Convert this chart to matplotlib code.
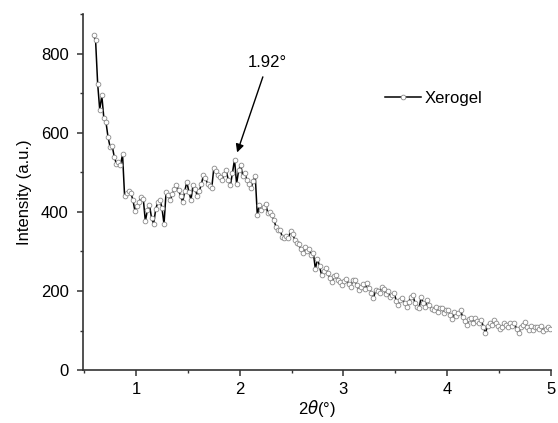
import numpy as np
import matplotlib.pyplot as plt
from matplotlib.ticker import MultipleLocator

plt.rcParams['font.family'] = ['Liberation Sans', 'DejaVu Sans']

# 2theta grid (deg) and intensity (a.u.)
two_theta = np.round(np.arange(0.59, 5.0, 0.02), 3)
intensity = [
    # 0.59 - 0.87
    846, 833, 724, 658, 694, 636, 627, 589, 564, 567, 539, 522, 526, 518, 545,
    # 0.89 - 1.39
    439, 448, 453, 448, 430, 402, 415, 425, 438, 433, 376, 405, 417, 384, 369,
    407, 424, 430, 410, 369, 450, 442, 429, 445, 457, 467,
    # 1.41 - 2.15
    455, 440, 425, 452, 476, 450, 431, 467, 458, 441, 452, 470, 492, 485, 471,
    466, 459, 510, 502, 493, 488, 480, 495, 505, 480, 467, 498, 532, 471, 505,
    518, 490, 497, 480, 470, 459, 478, 490,
    # 2.17 - 2.99
    391, 417, 405, 412, 421, 398, 400, 392, 379, 362, 354, 354, 337, 333, 340,
    333, 352, 345, 330, 322, 318, 305, 297, 310, 300, 305, 290, 297, 255, 282,
    262, 240, 250, 257, 245, 232, 223, 238, 240, 228, 222, 215,
    # 3.01 - 3.99
    225, 231, 218, 210, 227, 227, 215, 202, 210, 218, 205, 219, 208, 195, 181,
    202, 200, 195, 210, 206, 192, 200, 185, 189, 195, 175, 164, 178, 181, 170,
    160, 172, 185, 189, 170, 160, 156, 185, 170, 160, 177, 165, 155, 151, 160,
    148, 156, 158, 145, 152,
    # 4.01 - 4.99
    151, 140, 130, 148, 138, 144, 151, 135, 125, 114, 128, 131, 120, 131, 125,
    118, 126, 110, 93, 112, 120, 115, 126, 118, 112, 105, 110, 120, 114, 108,
    118, 112, 118, 105, 93, 108, 115, 122, 110, 101, 112, 101, 108, 110, 105,
    112, 100, 105, 110, 105,
]

peak_label = "1.92°"

fig = plt.figure(figsize=(5.58, 4.23), dpi=100)
ax = fig.add_axes([0.149, 0.125, 0.838, 0.842])

ax.plot(two_theta, intensity, color='black', lw=1.1, marker='o', ms=3.4,
        mfc='white', mec='#8a8a8a', mew=0.6, label='Xerogel')

ax.annotate(peak_label, xy=(1.975, 550), xytext=(2.27, 758),
            ha='center', va='bottom', fontsize=12,
            arrowprops=dict(arrowstyle='-|>', color='black', lw=1.0,
                            mutation_scale=12, shrinkA=3, shrinkB=0))

ax.set_xlim(0.49, 5.0)
ax.set_ylim(0, 900)
ax.xaxis.set_major_locator(MultipleLocator(1))
ax.xaxis.set_minor_locator(MultipleLocator(0.5))
ax.yaxis.set_major_locator(MultipleLocator(200))
ax.yaxis.set_minor_locator(MultipleLocator(100))

for s in ['top', 'right']:
    ax.spines[s].set_visible(False)
for s in ['left', 'bottom']:
    ax.spines[s].set_linewidth(1.2)
    ax.spines[s].set_color('#333333')
ax.tick_params(which='major', direction='out', length=4.5, width=1.1,
               labelsize=12, colors='#333333', labelcolor='black')
ax.tick_params(axis='y', which='major', pad=6)
ax.tick_params(axis='x', which='major', pad=4)
ax.tick_params(which='minor', direction='out', length=2.5, width=1.0,
               colors='#333333')

ax.set_xlabel(r'2$\theta$(°)', fontsize=12, labelpad=1)
ax.set_ylabel('Intensity (a.u.)', fontsize=12, labelpad=6)

ax.legend(loc='center left', bbox_to_anchor=(0.645, 0.762), frameon=False,
          fontsize=12, handlelength=2.2, handletextpad=0.2,
          borderpad=0, borderaxespad=0)

fig.savefig('out.png', dpi=100)
